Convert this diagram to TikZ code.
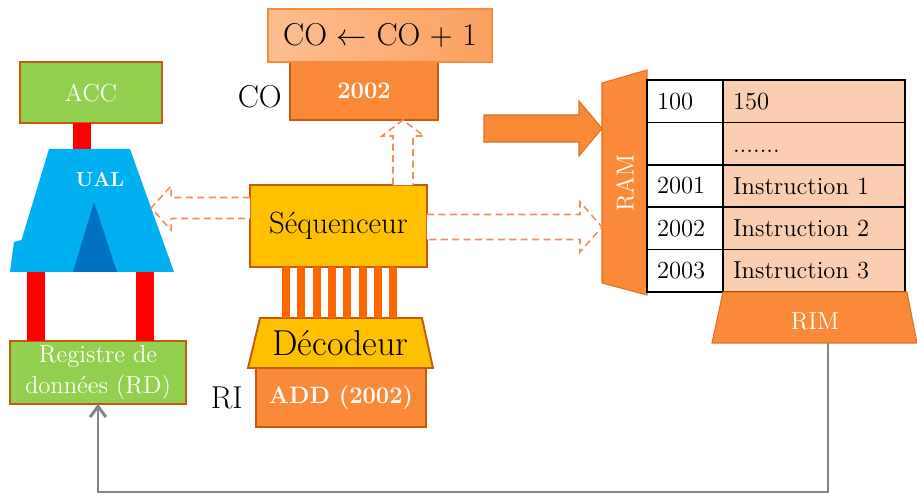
\documentclass[tikz,border=0pt]{standalone}
\usetikzlibrary{positioning,calc,arrows.meta}
\definecolor{accgreen}{RGB}{146,208,80}
\definecolor{boxbrown}{RGB}{197,90,17}
\definecolor{ualblue}{RGB}{0,176,240}
\definecolor{ualdark}{RGB}{0,112,192}
\definecolor{barred}{RGB}{255,0,0}
\definecolor{regorange}{RGB}{250,137,56}
\definecolor{seqgold}{RGB}{255,192,0}
\definecolor{barorange}{RGB}{255,102,0}
\definecolor{cellpeach}{RGB}{251,206,177}
\definecolor{dashorange}{RGB}{245,140,90}
\definecolor{railgray}{RGB}{128,132,140}
\newcommand{\memdots}{\raisebox{-5pt}[0pt][0pt]{.......}}

\begin{document}
\begin{tikzpicture}[
		x=0.02cm, y=-0.02cm,
		box/.style={rectangle, draw=boxbrown, line width=1.1pt, inner sep=0pt, outer sep=0pt, align=center},
		gbox/.style={box, fill=accgreen, text=white, font=\fontsize{14}{18}\selectfont},
		obox/.style={box, fill=regorange, text=white, font=\fontsize{13.5}{15}\selectfont\bfseries},
		ybox/.style={box, fill=seqgold, font=\fontsize{17.5}{19}\selectfont},
		lbl/.style={inner sep=0pt, font=\fontsize{18}{20}\selectfont},
		wlbl/.style={inner sep=0pt, text=white, font=\fontsize{14}{16}\selectfont},
		redbar/.style={draw=barred, line width=0.36cm},
		decbar/.style={draw=barorange, line width=0.16cm},
		hollow/.style={draw=dashorange, fill=white, line width=0.9pt, dash pattern=on 4pt off 2.5pt},
		solidshape/.style={fill=regorange, draw=boxbrown!50!regorange, line width=0.6pt},
		cell/.style={rectangle, draw, line width=0.8pt, minimum height=0.848cm, inner ysep=0pt, inner xsep=0.2cm, align=left, font=\fontsize{14}{16}\selectfont},
		feedback/.style={draw=railgray, line width=1.7pt, -{Straight Barb[length=6pt, width=9pt]}}
		]
		\useasboundingbox (0,0) rectangle (917,496);
		
		% UAL
		\coordinate (ual-tl) at (49,149);
		\coordinate (ual-tr) at (130,149);
		\coordinate (ual-br) at (174,272);
		\coordinate (ual-bl) at (10,272);
		\fill[ualblue] (ual-tl) -- (ual-tr) -- (ual-br) -- (ual-bl) -- (14,242) -- (21.5,240) -- cycle;
		\fill[ualdark] (94,202) -- (117,272) -- (73,272) -- cycle;
		\node[inner sep=0pt, text=white, font=\fontsize{11.5}{13}\selectfont\bfseries] (ual) at (100,180) {UAL};
		
		% registres de gauche
		\node[gbox, minimum width=2.84cm, minimum height=1.22cm] (acc) at (91,92.5) {ACC};
		\node[gbox, minimum width=3.52cm, minimum height=1.26cm] (rd) at (98,372.5) {Registre de\\données (RD)};
		
		\coordinate (accbar) at ($(acc.south)+(-9,0)$);
		\draw[redbar] (accbar) -- (accbar |- ual-tl);
		\coordinate (rdbar-l) at ($(rd.north west)+(26,0)$);
		\coordinate (rdbar-r) at ($(rd.north west)+(134.5,0)$);
		\draw[redbar] (rdbar-l) -- (rdbar-l |- ual-bl);
		\draw[redbar] (rdbar-r) -- (rdbar-r |- ual-bl);
		
		% compteur ordinal
		\node[obox, minimum width=2.96cm, minimum height=1.16cm] (co) at (364,91) {2002};
		\node[box, draw=regorange, line width=0.8pt, left color=regorange!55!white, middle color=regorange!25!white, right color=regorange!80!white,
			minimum width=4.48cm, minimum height=1.06cm, font=\fontsize{18}{20}\selectfont,
			above=0pt of co, xshift=0.32cm] (coinc) {CO $\leftarrow$ CO + 1};
		\node[lbl, left=0.16cm of co, yshift=-0.12cm] (colbl) {CO};
		
		% sequenceur et decodeur
		\node[ybox, minimum width=3.54cm, minimum height=1.64cm] (seq) at (338.5,226) {Séquenceur};
		\node[obox, minimum width=3.4cm, minimum height=1.18cm] (add) at (341,397.5) {ADD (2002)};
		\node[lbl, left=0.26cm of add] (rilbl) {RI};
		
		\coordinate (dec-bl) at ($(add.north west)+(-8,0)$);
		\coordinate (dec-br) at ($(add.north east)+(7,0)$);
		\coordinate (dec-tl) at ($(add.north west)+(4,-50)$);
		\coordinate (dec-tr) at ($(add.north east)+(-4,-50)$);
		\filldraw[fill=seqgold, draw=boxbrown, line width=1.1pt] (dec-bl) -- (dec-tl) -- (dec-tr) -- (dec-br) -- cycle;
		\node[inner sep=0pt, font=\fontsize{20.5}{22}\selectfont] (dec) at ($(dec-tl)!0.5!(dec-br)+(-6,0)$) {Décodeur};
		
		\foreach \i in {0,...,7}{
			\coordinate (bar-\i) at ($(seq.south west)+(36+15.3*\i,0)$);
			\draw[decbar] (bar-\i) -- (bar-\i |- dec-tl);
		}
		
		% RAM
		\coordinate (ram-tl) at (602,83);
		\coordinate (ram-tr) at (647,70);
		\coordinate (ram-br) at (647,295);
		\coordinate (ram-bl) at (602,283);
		\filldraw[solidshape] (ram-tl) -- (ram-tr) -- (ram-br) -- (ram-bl) -- cycle;
		\node[wlbl, rotate=90] (ram) at (625,183) {RAM};
		
		\foreach \addr/\val [count=\r from 0] in {100/150, {}/\memdots, 2001/Instruction 1, 2002/Instruction 2, 2003/Instruction 3}{
			\node[cell, fill=white, text width=1.12cm, minimum width=1.52cm] (addr-\r) at (685, 101.2+42.4*\r) {\addr};
			\node[cell, fill=cellpeach, text width=3.24cm, minimum width=3.64cm] (val-\r) at (814, 101.2+42.4*\r) {\val};
		}
		
		% RIM
		\coordinate (rim-tl) at (723,292);
		\coordinate (rim-tr) at (907,292);
		\coordinate (rim-br) at (917,343);
		\coordinate (rim-bl) at (712,343);
		\filldraw[solidshape] (rim-tl) -- (rim-tr) -- (rim-br) -- (rim-bl) -- cycle;
		\node[wlbl] (rim) at (815,321) {RIM};
		
		% fleches de commande
		\coordinate (up-foot) at ($(seq.north east)+(-24,0)$);
		\coordinate (up-tip) at (up-foot |- co.south);
		\draw[hollow] ($(up-foot)+(-10,0)$) -- ($(up-tip)+(-10,16)$) -- ($(up-tip)+(-21,16)$) -- (up-tip)
			-- ($(up-tip)+(21,16)$) -- ($(up-tip)+(10,16)$) -- ($(up-foot)+(10,0)$);
		
		\coordinate (left-tip) at ($(ual-tr)!0.48!(ual-br)$);
		\coordinate (left-foot) at (seq.west |- left-tip);
		\draw[hollow] ($(left-foot)+(0,-10.5)$) -- ($(left-tip)+(20,-10.5)$) -- ($(left-tip)+(20,-22)$) -- (left-tip)
			-- ($(left-tip)+(20,22)$) -- ($(left-tip)+(20,10.5)$) -- ($(left-foot)+(0,10.5)$);
		
		\coordinate (right-foot) at ($(seq.east)+(0,1)$);
		\coordinate (right-tip) at (ram-tl |- right-foot);
		\draw[hollow] ($(right-foot)+(0,-12.5)$) -- ($(right-tip)+(-22,-12.5)$) -- ($(right-tip)+(-22,-25)$) -- (right-tip)
			-- ($(right-tip)+(-22,25)$) -- ($(right-tip)+(-22,12.5)$) -- ($(right-foot)+(0,12.5)$);
		
		% bus d'adresse
		\coordinate (bus-start) at (484,128.5);
		\coordinate (bus-tip) at (ram-tl |- bus-start);
		\filldraw[solidshape] ($(bus-start)+(0,-13.5)$) -- ($(bus-tip)+(-23,-13.5)$) -- ($(bus-tip)+(-23,-27.5)$) -- (bus-tip)
			-- ($(bus-tip)+(-23,27.5)$) -- ($(bus-tip)+(-23,13.5)$) -- ($(bus-start)+(0,13.5)$) -- cycle;
		
		% retour vers RD
		\coordinate (rim-out) at (828,343);
		\draw[feedback] (rim-out) -- ++(0,149) -| (rd.south);
	\end{tikzpicture}
\end{document}
